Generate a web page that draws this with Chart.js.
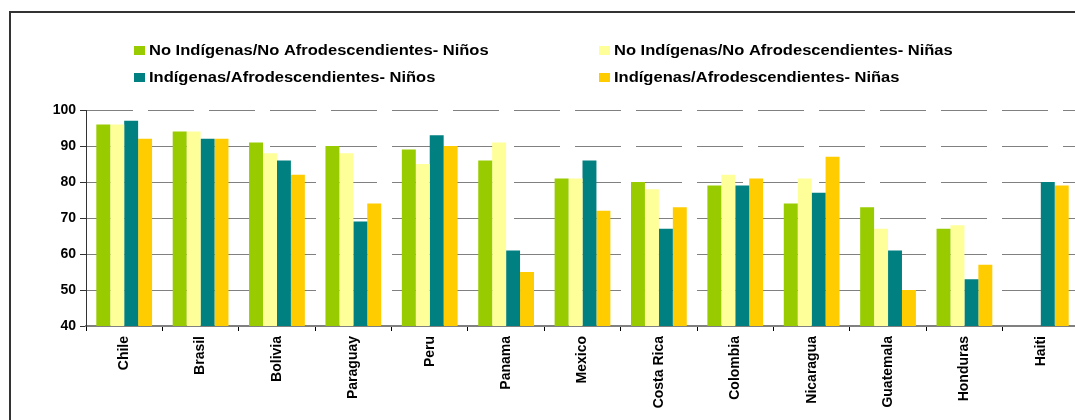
<!DOCTYPE html>
<html>
<head>
<meta charset="utf-8">
<title>Niños y niñas por condición étnica</title>
<script src="https://cdn.jsdelivr.net/npm/chart.js@4.4.0/dist/chart.umd.min.js"></script>
<style>
  html, body { margin: 0; padding: 0; background: #fff; overflow: hidden; }
  #chartWrap { position: relative; width: 1075px; height: 420px; overflow: hidden; }
  #salesChart { display: block; }
</style>
</head>
<body>
<div id="chartWrap">
  <canvas id="salesChart" width="1079" height="420"></canvas>
</div>
<script>
// Categories (x axis)
const countries = ["Chile", "Brasil", "Bolivia", "Paraguay", "Peru", "Panama", "Mexico",
  "Costa Rica", "Colombia", "Nicaragua", "Guatemala", "Honduras", "Haiti"];

// Series values
const noIndNinos = [96, 94, 91, 90, 89, 86, 81, 80, 79, 74, 73, 67, null];
const noIndNinas = [96, 94, 88, 88, 85, 91, 81, 78, 82, 81, 67, 68, null];
const indNinos = [97, 92, 86, 69, 93, 61, 86, 67, 79, 77, 61, 53, 80];
const indNinas = [92, 92, 82, 74, 90, 55, 72, 73, 81, 87, 50, 57, 79];

// Series names
const seriesNames = [
  "No Indígenas/No Afrodescendientes- Niños",
  "No Indígenas/No Afrodescendientes- Niñas",
  "Indígenas/Afrodescendientes- Niños",
  "Indígenas/Afrodescendientes- Niñas"
];

// Y axis range
const yMin = 40;
const yMax = 100;
const yStep = 10;

const FONT_FAMILY = '"Liberation Sans", Arial, sans-serif';

// Border box and 2x2 legend, drawn on the canvas
const frameAndLegend = {
  id: "frameAndLegend",
  afterDraw: function (chart) {
    const ctx = chart.ctx;
    ctx.save();

    // outer frame (runs off the right/bottom edge)
    ctx.strokeStyle = "#333333";
    ctx.lineWidth = 2;
    ctx.strokeRect(10, 12, 2000, 2000);

    // legend: two columns, two rows
    const colX = [134, 599];
    const rowY = [55, 82];
    const order = [0, 1, 2, 3];
    ctx.font = "bold 14px " + FONT_FAMILY;
    ctx.textBaseline = "alphabetic";
    ctx.textAlign = "left";
    order.forEach(function (i) {
      const ds = chart.data.datasets[i];
      const x = colX[i % 2];
      const y = rowY[Math.floor(i / 2)];
      ctx.fillStyle = ds.backgroundColor;
      ctx.fillRect(x, y - 9, 11, 9);
      ctx.fillStyle = "#000000";
      ctx.save();
      ctx.translate(x + 15, y);
      ctx.scale(1.18, 1);
      ctx.fillText(ds.label, 0, 0);
      ctx.restore();
    });

    ctx.restore();
  }
};

const ctx = document.getElementById("salesChart").getContext("2d");

const chartData = {
  labels: countries,
  datasets: [
    { label: seriesNames[0], data: noIndNinos, backgroundColor: "#99CC00" },
    { label: seriesNames[1], data: noIndNinas, backgroundColor: "#FFFF99" },
    { label: seriesNames[2], data: indNinos, backgroundColor: "#008080" },
    { label: seriesNames[3], data: indNinas, backgroundColor: "#FFCC00" }
  ]
};

const chartOptions = {
  responsive: false,
  animation: false,
  devicePixelRatio: 1,
  layout: {
    padding: { top: 110, left: 0, right: 0, bottom: 0 }
  },
  datasets: {
    bar: {
      barPercentage: 1.0,
      categoryPercentage: 0.73,
      borderWidth: 0
    }
  },
  plugins: {
    legend: { display: false },
    title: { display: false },
    tooltip: { enabled: false }
  },
  scales: {
    x: {
      afterFit: function (scale) {
        scale.height = 94;
      },
      grid: {
        drawOnChartArea: false,
        drawTicks: true,
        tickLength: 5,
        tickColor: "#000000",
        tickWidth: 1
      },
      border: {
        color: "#808080",
        width: 2
      },
      ticks: {
        autoSkip: false,
        minRotation: 90,
        maxRotation: 90,
        padding: 5,
        color: "#000000",
        font: { family: FONT_FAMILY, size: 14, weight: "bold" }
      }
    },
    y: {
      min: yMin,
      max: yMax,
      afterFit: function (scale) {
        scale.width = 86;
      },
      grid: {
        color: "#808080",
        lineWidth: 1,
        drawTicks: true,
        tickLength: 6,
        tickColor: "#333333",
        tickWidth: 1
      },
      border: {
        color: "#333333",
        width: 1,
        dash: [46, 15]
      },
      ticks: {
        stepSize: yStep,
        padding: 4,
        color: "#000000",
        font: { family: FONT_FAMILY, size: 14, weight: "bold" }
      }
    }
  }
};

const barChart = new Chart(ctx, {
  type: "bar",
  data: chartData,
  options: chartOptions,
  plugins: [frameAndLegend]
});
</script>
</body>
</html>
